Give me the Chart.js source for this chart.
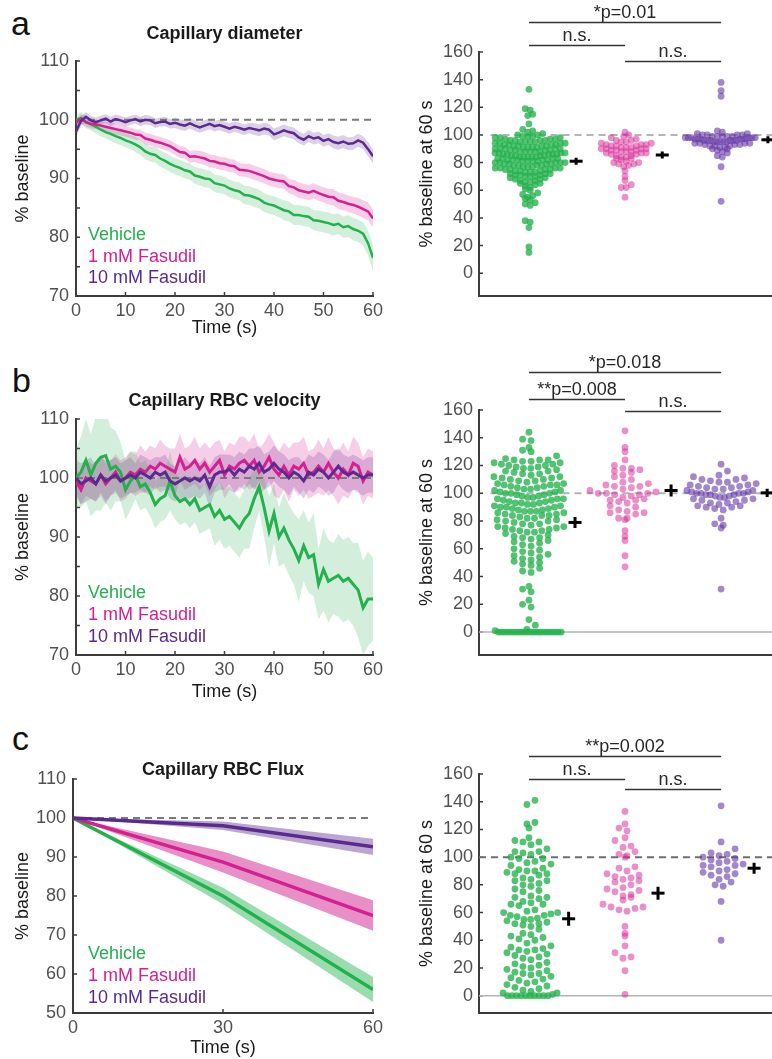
<!DOCTYPE html>
<html>
<head>
<meta charset="utf-8">
<title>Capillary responses to Fasudil</title>
<script src="https://cdn.jsdelivr.net/npm/chart.js@4.4.1/dist/chart.umd.min.js"></script>
<style>
  html, body { margin: 0; padding: 0; background: #fff; overflow: hidden; }
  #fig { position: relative; width: 772px; height: 1059px; font-family: "Liberation Sans", Arial, Helvetica, sans-serif; }
  #fig canvas { position: absolute; }
  .letter { position: absolute; font-size: 34px; line-height: 1; color: #111; }
</style>
</head>
<body>
<div id="fig">
  <div class="letter" style="left:11px; top:6px">a</div>
  <div class="letter" style="left:12px; top:363px">b</div>
  <div class="letter" style="left:12px; top:721px">c</div>
  <canvas id="diamTrace"></canvas>
  <canvas id="diamSwarm"></canvas>
  <canvas id="velTrace"></canvas>
  <canvas id="velSwarm"></canvas>
  <canvas id="fluxTrace"></canvas>
  <canvas id="fluxSwarm"></canvas>
</div>
<script>
// ---------- data ----------
const groupNames = ["Vehicle", "1 mM Fasudil", "10 mM Fasudil"];
const baselinePct = 100;

const timeSec = Array.from({ length: 61 }, (_, i) => i); // 1 s samples
const fluxTime = [0, 30, 60];

const traceTicksX = [0, 10, 20, 30, 40, 50, 60];
const traceTicksY = [70, 80, 90, 100, 110];
const traceMinorY = [75, 85, 95, 105];
const fluxTicksX = [0, 30, 60];
const fluxTicksY = [50, 60, 70, 80, 90, 100, 110];
const swarmTicksY = [0, 20, 40, 60, 80, 100, 120, 140, 160];

// a - capillary diameter (% baseline, mean and sem per second)
const diamVehicle = [100,100.3,99.6,99.2,98.8,98.3,97.9,97.6,97.2,96.9,
  96.5,96.2,95.8,95.3,94.6,94.2,94.0,93.4,93.0,92.5,
  92.1,91.8,91.4,91.2,90.5,90.3,90.0,89.9,89.2,89.0,
  88.8,88.3,88.0,87.8,87.2,87.1,86.8,86.5,85.9,85.6,
  85.4,85.0,84.6,84.4,83.8,83.8,83.6,83.5,82.9,82.8,
  82.6,82.4,82.1,82.3,81.7,81.9,81.4,81.1,80.6,79.0,76.5];
const diamFas1 = [99.5,100.2,99.6,99.3,99.2,99.0,98.8,98.6,98.4,98.2,
  98.0,97.8,97.5,97.4,96.8,96.6,96.3,96.1,95.8,95.5,
  95.0,94.5,94.4,93.7,93.8,93.6,93.4,93.0,92.9,92.6,
  92.5,92.2,92.1,91.5,91.4,91.3,91.0,90.7,90.4,90.0,
  89.8,89.6,89.5,88.7,88.5,88.0,87.8,87.6,87.9,87.5,
  87.2,86.9,86.8,86.2,86.0,85.7,85.5,85.2,84.8,84.4,83.2];
const diamFas10 = [98.0,99.8,100.5,99.9,99.6,99.9,100.2,99.7,100.1,99.9,
  99.6,99.9,100.1,99.7,100.0,99.9,99.4,99.6,99.7,99.3,
  99.5,99.2,99.0,99.4,99.0,98.7,99.0,99.3,98.9,99.1,
  98.8,98.5,98.8,98.6,98.3,98.6,98.4,98.2,98.5,98.3,
  97.5,97.8,98.2,97.9,97.7,97.0,96.6,97.2,96.8,97.0,
  96.4,96.7,96.2,96.0,96.3,95.9,96.0,96.5,96.1,95.0,93.8];
const diamVehicleSem = [0.8,1,1,1,1.1,1.1,1.1,1.2,1.2,1.2,1.2,1.2,1.3,1.3,1.3,1.3,1.3,1.4,1.4,1.4,
  1.4,1.4,1.4,1.4,1.4,1.5,1.5,1.5,1.5,1.5,1.5,1.5,1.5,1.5,1.6,1.6,1.6,1.6,1.6,1.6,
  1.6,1.6,1.7,1.7,1.7,1.7,1.7,1.7,1.7,1.8,1.8,1.8,1.8,1.8,1.8,1.9,1.9,1.9,2,2.1,2.2];
const diamFas1Sem = [0.6,0.8,0.8,0.8,0.8,0.8,0.8,0.9,0.9,0.9,0.9,0.9,0.9,0.9,1,1,1,1,1,1,
  1,1,1,1,1,1.1,1.1,1.1,1.1,1.1,1.1,1.1,1.1,1.1,1.1,1.2,1.2,1.2,1.2,1.2,
  1.2,1.2,1.2,1.2,1.3,1.3,1.3,1.3,1.3,1.3,1.3,1.3,1.4,1.4,1.4,1.4,1.4,1.5,1.5,1.5,1.5];
const diamFas10Sem = [1,0.8,0.8,0.8,0.8,0.8,0.8,0.8,0.8,0.8,0.8,0.8,0.8,0.8,0.8,0.8,0.8,0.8,0.8,0.8,
  0.9,0.9,0.9,0.9,0.9,0.9,0.9,0.9,0.9,0.9,0.9,0.9,0.9,0.9,0.9,0.9,1,1,1,1,
  1,1,1,1,1,1,1,1,1,1,1,1,1.1,1.1,1.1,1.1,1.1,1.1,1.1,1.2,1.2];

// b - capillary RBC velocity
const velVehicle = [100,101,103,100.5,102.5,103.5,103.8,101.5,102,101,
  98,99.5,100.5,98.5,99,97.5,95.5,96.5,97,99.5,
  97,96,96.5,95.5,96.5,94.5,95,95.5,93.5,94.5,
  93,93.5,92.5,91.5,93,94,96.5,98.5,95,91,
  94,90,91.5,89.5,88,86,88.5,86.5,87,82,
  84.5,82.5,83,83.5,82.5,83,82,81,78,79.5,79.5];
const velFas1 = [99.5,98,100,99.5,99,100.5,99,100,101,99.5,
  100,101,100.5,101.5,101,102,101.5,102.5,102,101.5,
  101,103.5,101.5,102,103,101.5,102.5,101,102,103,
  100.5,102,101.5,102.5,103,102,103,101,102,103.5,
  101.5,100.5,102,100.5,102,101.5,102.5,100.5,101,102,
  101,102.5,101,100,101.5,100.5,102.5,102,99.5,101,100.5];
const velFas10 = [100,99,99.5,100,99,100.5,99.5,100,100.5,99.5,
  100,100.5,100,101,100.5,100,101,100.5,101,99.5,
  99,99.5,100,99.5,100,99.5,100.5,98.5,100.5,101,
  101,101.5,100.5,101.5,101,102,101.5,102.5,101,101.5,
  102.5,101.5,101,100,101,100.5,99.5,101,100.5,101.5,
  101,100,101,102,101,100.5,101,100.5,100,100.5,100.5];
const velVehicleSem = [5,6,7,7,8,9,8,7,6,5,5,5,4,4,4,4,4,4,4,5,
  4,4,4,4,4,4,4,4,5,5,5,5,5,5,5,6,5,4,5,6,
  5,5,6,6,6,7,6,6,7,6,7,7,6,7,7,7,7,8,8,8,7];
const velFas1Sem = [2,2.5,3,3,3,3.5,3.5,3,3,3.5,3.5,3.5,3.5,4,3.5,3.5,3.5,4,3.5,3.5,
  4,4,3.5,3.5,4,3.5,3.5,4,4,3.5,4,4,4,4.5,4,4,4.5,4,4,4,
  4.5,4,4,4.5,4,4.5,4.5,4,4,4.5,4,4.5,4,4.5,4.5,4,4.5,4,4,4,4];
const velFas10Sem = [3,3.5,3.5,3.5,3,3,3.5,3,3,3,3,3,2.5,3,3,3,2.5,3,3,3,
  3,3,3.5,3,3,3,3,3.5,3,3,3,2.5,3,3,3,3,3.5,3,3,3,
  3,3,3,3,2.5,3,3,3,3,3,3,3,3.5,3,3,3,3,3,3,3,3];

// c - capillary RBC flux (0, 30, 60 s)
const fluxVehicle = [100, 80, 56];
const fluxFas1 = [100, 88.7, 75];
const fluxFas10 = [100, 98, 92.6];
const fluxVehicleSem = [0, 2.1, 3.2];
const fluxFas1Sem = [0, 2.7, 3.9];
const fluxFas10Sem = [0, 1.1, 2.1];

// % baseline at 60 s, one value per capillary
const diam60Vehicle = [133,119,118,115,114,108,104,103,102,101,
  100,100,99,99,99,98,98,98,97,97,97,96,96,96,96,95,95,95,95,94,94,94,94,93,93,93,93,
  92,92,92,92,91,91,91,91,90,90,90,90,90,89,89,89,89,88,88,88,88,88,87,87,87,87,
  86,86,86,86,86,85,85,85,85,84,84,84,84,84,83,83,83,83,82,82,82,82,82,81,81,81,81,
  80,80,80,80,80,79,79,79,79,78,78,78,78,77,77,77,76,76,76,76,75,75,75,75,74,74,74,
  73,73,73,72,72,72,71,71,71,70,70,70,69,69,68,68,67,67,66,66,65,65,64,63,62,61,60,
  58,57,56,55,54,53,51,50,49,38,37,33,19,15];
const diam60Fas1 = [102,100,99,98,97,96,96,95,95,94,94,93,93,93,92,92,92,91,91,91,
  90,90,90,90,89,89,89,88,88,88,87,87,87,86,86,85,85,84,84,83,83,82,81,80,80,79,79,
  78,77,74,70,67,64,62,62,55];
const diam60Fas10 = [138,132,128,103,102,101,101,100,100,100,100,99,99,99,99,99,
  98,98,98,98,98,98,97,97,97,97,97,97,96,96,96,96,96,96,95,95,95,95,95,94,94,94,94,
  93,93,93,92,92,92,91,91,90,90,89,88,87,85,84,77,52];
const diamMeans = [81, 85.5, 96.5];
const diamSems = [2.5, 2.5, 2.5];

const vel60Vehicle = [144,139,138,133,131,130,127,125,124,124,124,123,123,122,122,121,121,
  120,120,119,119,118,118,117,116,116,115,114,114,113,112,112,111,111,110,110,109,109,108,107,107,106,106,106,
  105,105,104,104,103,103,102,102,101,101,100,100,100,99,99,98,98,97,97,96,96,96,95,95,94,94,93,93,93,
  92,92,91,91,90,90,90,89,89,88,88,87,87,87,86,86,85,85,84,84,84,83,82,82,81,81,80,80,79,78,78,77,
  76,76,75,75,74,74,73,73,72,72,71,70,69,68,68,67,66,65,64,63,62,60,59,58,57,56,55,54,53,52,51,
  50,49,48,46,44,43,33,31,29,23,20,18,9,5,2,1,
  0,0,0,0,0,0,0,0,0,0,0,0,0,0,0,0,0,0,0,0,0,0];
const vel60Fas1 = [145,133,130,124,120,118,118,117,116,115,113,112,110,108,107,106,
  105,105,104,103,102,101,100,100,100,99,99,98,97,96,95,95,94,93,91,90,88,87,86,86,
  85,82,82,81,73,69,66,55,47];
const vel60Fas10 = [121,116,113,112,111,110,110,109,108,108,107,106,106,105,105,104,
  104,103,103,102,102,101,101,100,100,100,100,99,99,99,98,98,97,97,96,96,95,95,94,
  93,93,92,91,91,90,90,89,88,82,78,77,75,31];
const velMeans = [79, 102, 100.3];
const velSems = [4, 4.3, 2.9];

const flux60Vehicle = [141,138,125,124,121,114,112,111,111,109,106,104,104,103,102,
  100,99,99,97,96,95,94,92,91,90,90,89,88,88,87,85,84,83,83,81,80,79,77,76,75,72,71,71,70,
  68,67,66,66,65,62,61,60,60,59,58,58,57,56,55,55,54,53,52,52,51,50,48,45,44,43,42,
  41,40,38,36,35,34,33,33,32,31,30,29,28,27,26,24,23,22,21,20,19,18,17,16,16,15,14,
  13,12,11,10,9,8,7,6,5,4,3,2,2,1,0,0,0,0,0,0,0,0,0,0];
const flux60Fas1 = [133,124,121,119,114,112,108,107,104,102,101,100,93,92,90,88,87,
  86,85,84,83,82,80,78,77,76,75,73,72,71,69,66,64,64,63,62,61,50,45,43,36,31,28,27,18,1];
const flux60Fas10 = [137,111,106,103,102,101,100,99,98,97,96,95,94,94,93,91,90,89,
  88,87,86,84,82,80,79,68,40];
const fluxMeans = [55.5, 74, 92];
const fluxSems = [5, 4.7, 4];

const pairs = [[1, 3], [1, 2], [2, 3]];
const diamSig = ["*p=0.01", "n.s.", "n.s."];
const velSig = ["*p=0.018", "**p=0.008", "n.s."];
const fluxSig = ["**p=0.002", "n.s.", "n.s."];

// ---------- styling ----------
const FONT = '"Liberation Sans", Arial, Helvetica, sans-serif';
const AXIS = "#3c3c3c", TICK = "#505050", LABEL = "#1a1a1a";
const lineColors = ["#22b14c", "#d42090", "#5a2a8f"];
const bandSoft = ["rgba(34,177,76,0.2)", "rgba(212,32,144,0.22)", "rgba(90,42,143,0.22)"];
const bandStrong = ["rgba(34,177,76,0.45)", "rgba(212,32,144,0.5)", "rgba(90,42,143,0.42)"];
const dotColors = ["rgba(34,177,76,0.78)", "rgba(214,40,150,0.52)", "rgba(100,55,165,0.6)"];
const X_MIN = 0.48, X_MAX = 3.53;   // swarm x range (groups at 1,2,3)

Chart.defaults.font.family = FONT;
Chart.defaults.font.size = 18;
Chart.defaults.color = TICK;
Chart.defaults.plugins.legend.display = false;
Chart.defaults.plugins.tooltip.enabled = false;

function place(id, b) {
  const c = document.getElementById(id);
  c.width = b.w; c.height = b.h;
  c.style.left = b.x + "px"; c.style.top = b.y + "px";
  return c;
}

// MATLAB style ticks pointing into the axes
function inwardTicks(xs, ys, len) {
  return {
    id: "inwardTicks",
    beforeDatasetsDraw(chart) {
      const { ctx, chartArea: ca, scales } = chart;
      ctx.save();
      ctx.strokeStyle = AXIS;
      ctx.lineWidth = 1.5;
      ctx.beginPath();
      ys.forEach(v => {
        const p = scales.y.getPixelForValue(v);
        ctx.moveTo(ca.left, p); ctx.lineTo(ca.left + len, p);
      });
      xs.forEach(v => {
        const p = scales.x.getPixelForValue(v);
        ctx.moveTo(p, ca.bottom); ctx.lineTo(p, ca.bottom - len);
      });
      ctx.stroke();
      ctx.restore();
    }
  };
}

// panel title + coloured text legend inside the axes
function panelText(title, titleDy, legendDx, legendDy) {
  return {
    id: "panelText",
    afterDraw(chart) {
      const { ctx, chartArea: ca } = chart;
      ctx.save();
      ctx.textBaseline = "alphabetic";
      ctx.font = "bold 18px " + FONT;
      ctx.fillStyle = LABEL;
      ctx.textAlign = "center";
      ctx.fillText(title, (ca.left + ca.right) / 2, ca.top + titleDy);
      ctx.font = "18px " + FONT;
      ctx.textAlign = "left";
      groupNames.forEach((t, i) => {
        ctx.fillStyle = lineColors[i];
        ctx.fillText(t, ca.left + legendDx, ca.bottom + legendDy[i]);
      });
      ctx.restore();
    }
  };
}

// significance bars between group centres
function sigBrackets(labels, levels) {
  return {
    id: "sigBrackets",
    afterDraw(chart) {
      const { ctx, scales: { x, y } } = chart;
      ctx.save();
      ctx.strokeStyle = "#333";
      ctx.lineWidth = 1.5;
      ctx.fillStyle = "#262626";
      ctx.font = "18px " + FONT;
      ctx.textAlign = "center";
      ctx.textBaseline = "alphabetic";
      pairs.forEach(([g1, g2], i) => {
        const x1 = x.getPixelForValue(g1), x2 = x.getPixelForValue(g2);
        const py = Math.round(y.getPixelForValue(levels[i])) + 0.5;
        ctx.beginPath(); ctx.moveTo(x1, py); ctx.lineTo(x2, py); ctx.stroke();
        ctx.fillText(labels[i], (x1 + x2) / 2, py - 5);
      });
      ctx.restore();
    }
  };
}

function traceChart(id, box, spec) {
  const canvas = place(id, box);
  const datasets = [];
  spec.means.forEach((m, i) => {
    const s = spec.sems[i];
    datasets.push({ data: m.map((v, k) => v + s[k]), borderWidth: 0, pointRadius: 0,
      fill: "+1", backgroundColor: spec.bands[i], order: 10 });
    datasets.push({ data: m.map((v, k) => v - s[k]), borderWidth: 0, pointRadius: 0,
      fill: false, order: 10 });
  });
  const t = spec.time;
  datasets.push({ data: [{ x: t[0], y: baselinePct }, { x: t[t.length - 1], y: baselinePct }],
    borderColor: "#7a7a7a", borderWidth: 2, borderDash: [7, 5], pointRadius: 0, fill: false, order: 5 });
  spec.means.forEach((m, i) => datasets.push({ data: m, borderColor: lineColors[i],
    borderWidth: spec.lw, pointRadius: 0, fill: false, order: 3 - i }));

  return new Chart(canvas, {
    type: "line",
    data: { labels: t, datasets },
    options: {
      responsive: false, animation: false, events: [],
      layout: { padding: box.pad, autoPadding: false },
      elements: { line: { tension: 0 } },
      scales: {
        x: {
          type: "linear", min: t[0], max: t[t.length - 1],
          grid: { display: false, drawTicks: false },
          border: { display: true, color: AXIS, width: 2 },
          ticks: { padding: 4.5, color: TICK, maxRotation: 0 },
          afterBuildTicks: s => { s.ticks = spec.xTicks.map(v => ({ value: v })); },
          afterFit: s => { s.height = box.xAxisH; s.paddingLeft = 0; s.paddingRight = 0; },
          title: { display: true, text: "Time (s)", color: LABEL, padding: { top: 0, bottom: box.xTitlePad } }
        },
        y: {
          min: spec.yTicks[0], max: spec.yTicks[spec.yTicks.length - 1],
          grid: { display: false, drawTicks: false },
          border: { display: true, color: AXIS, width: 2 },
          ticks: { padding: 7, color: TICK },
          afterBuildTicks: s => { s.ticks = spec.yTicks.map(v => ({ value: v })); },
          afterFit: s => { s.width = box.yAxisW; s.paddingTop = 0; s.paddingBottom = 0; },
          title: { display: true, text: "% baseline", color: LABEL, padding: { top: 12.2, bottom: 0 } }
        }
      }
    },
    plugins: [inwardTicks(spec.xTicks, spec.yTicks.concat(spec.yMinor), 4),
      panelText(spec.title, spec.titleDy, spec.legendDx, spec.legendDy)]
  });
}

// bin values into pixel rows and spread each row sideways (beeswarm)
function placeSwarm(chart, groups, lay) {
  const xs = chart.scales.x, ys = chart.scales.y;
  const ppu = xs.getPixelForValue(2) - xs.getPixelForValue(1);
  return groups.map((vals, gi) => {
    const rows = {};
    vals.slice().sort((a, b) => a - b).forEach(v => {
      const r = Math.round(ys.getPixelForValue(v) / lay.row);
      (rows[r] = rows[r] || []).push(v);
    });
    const pts = [];
    let far = 0;
    Object.keys(rows).forEach(r => {
      const list = rows[r];
      const n = list.length;
      const step = n > 1 ? Math.min(lay.gap, 2 * lay.half / (n - 1)) : 0;
      // stagger every other row by a quarter step so rows do not line up in columns
      const shift = (r % 2 ? 1 : -1) * step / 4;
      const slots = list.map((_, k) => (k - (n - 1) / 2) * step + shift)
        .sort((p, q) => Math.abs(p) - Math.abs(q));
      list.forEach((v, k) => {
        pts.push({ x: gi + 1 + slots[k] / ppu, y: v });
        far = Math.max(far, Math.abs(slots[k]));
      });
    });
    chart.data.datasets[gi].data = pts;
    return { far, ppu };
  });
}

function swarmChart(id, box, spec) {
  const canvas = place(id, box);
  const datasets = spec.groups.map((vals, i) => ({
    type: "scatter", data: vals.map(v => ({ x: i + 1, y: v })),
    backgroundColor: dotColors[i], borderWidth: 0, pointRadius: 3.4, order: 5
  }));
  datasets.push({ type: "line", data: [{ x: spec.refFrom, y: baselinePct }, { x: X_MAX, y: baselinePct }],
    borderColor: spec.refColor, borderWidth: 2, borderDash: [7, 5], pointRadius: 0, order: 8 });
  if (spec.zeroLine) {
    datasets.push({ type: "line", data: [{ x: X_MIN, y: 0 }, { x: X_MAX, y: 0 }],
      borderColor: "#b4b4b4", borderWidth: 1.5, pointRadius: 0, order: 9 });
  }
  const meanIdx = datasets.length;
  datasets.push({ type: "scatter", data: [], pointStyle: "line", pointRadius: 6.5,
    borderWidth: 3, borderColor: "#000", backgroundColor: "#000", order: 0 });
  datasets.push({ type: "line", data: [], borderColor: "#000", borderWidth: 3,
    pointRadius: 0, spanGaps: false, order: 0 });

  const chart = new Chart(canvas, {
    type: "scatter",
    data: { datasets },
    options: {
      responsive: false, animation: false, events: [],
      layout: { padding: box.pad, autoPadding: false },
      scales: {
        x: {
          type: "linear", min: X_MIN, max: X_MAX,
          ticks: { display: false },
          grid: { display: false, drawTicks: false },
          border: { display: true, color: AXIS, width: 2 },
          afterFit: s => { s.height = 0; s.paddingLeft = 0; s.paddingRight = 0; }
        },
        y: {
          min: spec.yMin, max: swarmTicksY[swarmTicksY.length - 1],
          grid: { display: false, drawTicks: false },
          border: { display: true, color: AXIS, width: 2 },
          ticks: { padding: 6, color: TICK },
          afterBuildTicks: s => { s.ticks = swarmTicksY.map(v => ({ value: v })); },
          afterFit: s => { s.width = box.yAxisW; s.paddingTop = 0; s.paddingBottom = 0; },
          title: { display: true, text: "% baseline at 60 s", color: LABEL, padding: { top: 26.2, bottom: 0 } }
        }
      }
    },
    plugins: [inwardTicks([], swarmTicksY, 4), sigBrackets(spec.sig, spec.sigLevels)]
  });

  const reach = placeSwarm(chart, spec.groups, spec.swarm);
  const mx = reach.map((r, i) => i + 1 + (r.far + 11) / r.ppu);
  chart.data.datasets[meanIdx].data = spec.means.map((m, i) => ({ x: mx[i], y: m }));
  const sem = [];
  spec.means.forEach((m, i) => {
    sem.push({ x: mx[i], y: m - spec.sems[i] }, { x: mx[i], y: m + spec.sems[i] }, { x: mx[i], y: null });
  });
  chart.data.datasets[meanIdx + 1].data = sem;
  chart.update("none");
  return chart;
}

// ---------- panels ----------
traceChart("diamTrace",
  { x: 0, y: 0, w: 390, h: 340, pad: { top: 61, right: 17, bottom: 0, left: 0 }, xAxisH: 44, xTitlePad: 1.2, yAxisW: 76 },
  { time: timeSec, means: [diamVehicle, diamFas1, diamFas10], sems: [diamVehicleSem, diamFas1Sem, diamFas10Sem],
    bands: bandSoft, lw: 2.5, xTicks: traceTicksX, yTicks: traceTicksY, yMinor: traceMinorY,
    title: "Capillary diameter", titleDy: -22, legendDx: 12, legendDy: [-56, -34, -13] });

traceChart("velTrace",
  { x: 0, y: 345, w: 390, h: 358, pad: { top: 74, right: 17, bottom: 0, left: 0 }, xAxisH: 48, xTitlePad: 0, yAxisW: 76 },
  { time: timeSec, means: [velVehicle, velFas1, velFas10], sems: [velVehicleSem, velFas1Sem, velFas10Sem],
    bands: bandSoft, lw: 3, xTicks: traceTicksX, yTicks: traceTicksY, yMinor: traceMinorY,
    title: "Capillary RBC velocity", titleDy: -13.5, legendDx: 12, legendDy: [-57, -35, -13] });

traceChart("fluxTrace",
  { x: 0, y: 700, w: 390, h: 359, pad: { top: 79, right: 17, bottom: 0, left: 0 }, xAxisH: 46, xTitlePad: 0, yAxisW: 73 },
  { time: fluxTime, means: [fluxVehicle, fluxFas1, fluxFas10], sems: [fluxVehicleSem, fluxFas1Sem, fluxFas10Sem],
    bands: bandStrong, lw: 3.5, xTicks: fluxTicksX, yTicks: fluxTicksY, yMinor: [],
    title: "Capillary RBC Flux", titleDy: -4.5, legendDx: 15, legendDy: [-54, -32, -10] });

swarmChart("diamSwarm",
  { x: 390, y: 0, w: 382, h: 300, pad: { top: 52, right: 0, bottom: 4, left: 0 }, yAxisW: 89 },
  { groups: [diam60Vehicle, diam60Fas1, diam60Fas10], means: diamMeans, sems: diamSems, yMin: -16.5,
    swarm: { row: 5, gap: 5, half: 35 },
    refFrom: 0.6, refColor: "#b4b4b4", zeroLine: false, sig: diamSig, sigLevels: [181.7, 165.3, 153.3] });

swarmChart("velSwarm",
  { x: 390, y: 340, w: 382, h: 320, pad: { top: 70, right: 0, bottom: 5, left: 0 }, yAxisW: 89 },
  { groups: [vel60Vehicle, vel60Fas1, vel60Fas10], means: velMeans, sems: velSems, yMin: -16.5,
    swarm: { row: 7, gap: 8.5, half: 33 },
    refFrom: 0.6, refColor: "#b4b4b4", zeroLine: true, sig: velSig, sigLevels: [187.6, 167.7, 159.5] });

swarmChart("fluxSwarm",
  { x: 390, y: 700, w: 382, h: 318, pad: { top: 74, right: 0, bottom: 5, left: 0 }, yAxisW: 89 },
  { groups: [flux60Vehicle, flux60Fas1, flux60Fas10], means: fluxMeans, sems: fluxSems, yMin: -12.5,
    swarm: { row: 8, gap: 8, half: 27 },
    refFrom: X_MIN, refColor: "#6e6e6e", zeroLine: true, sig: fluxSig, sigLevels: [173, 156.6, 149] });
</script>
</body>
</html>
